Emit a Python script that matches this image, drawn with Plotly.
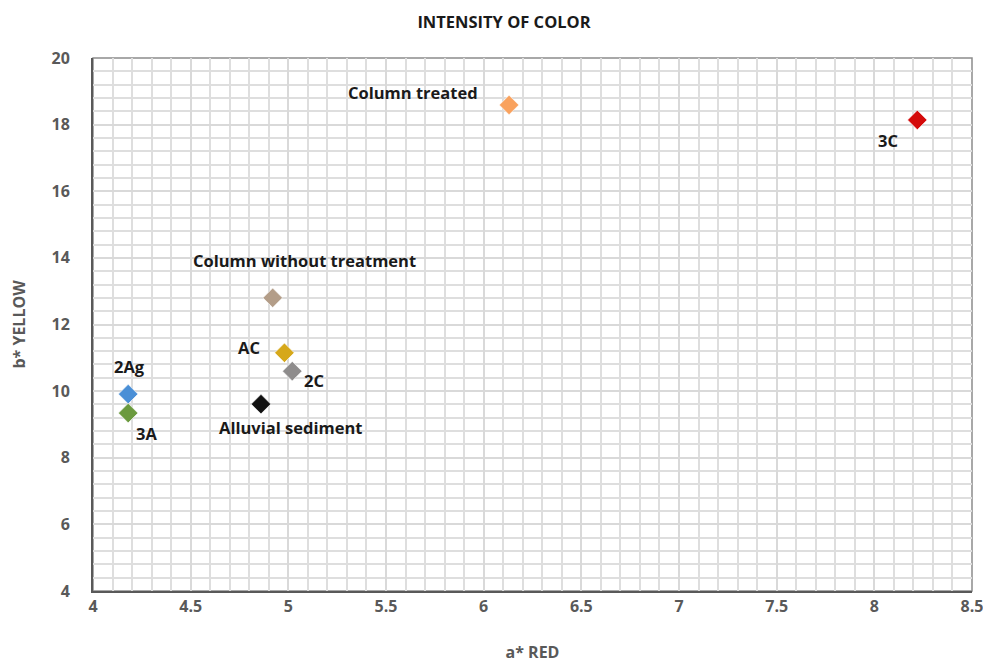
import plotly.graph_objects as go

samples = ["2Ag", "3A", "Alluvial sediment", "AC", "2C", "Column without treatment", "Column treated", "3C"]
a_red = [4.18, 4.18, 4.86, 4.98, 5.02, 4.92, 6.13, 8.22]
b_yellow = [9.91, 9.34, 9.61, 11.15, 10.6, 12.8, 18.59, 18.14]
colors = ["#4a8fd6", "#6b9a3e", "#111111", "#d6a81a", "#8e8c8c", "#b39d88", "#f9a25e", "#d40a0a"]
label_shift = {
    "2Ag": (1, 28), "3A": (18, -20), "Alluvial sediment": (30, -23), "AC": (-35, 5),
    "2C": (22, -9), "Column without treatment": (32, 37), "Column treated": (-96, 12), "3C": (-29, -21),
}
x_ticks = [4, 4.5, 5, 5.5, 6, 6.5, 7, 7.5, 8, 8.5]
y_ticks = [4, 6, 8, 10, 12, 14, 16, 18, 20]

W, H = 983, 656  # page body has an 8px default margin

fig = go.Figure()
for name, x, y, c in zip(samples, a_red, b_yellow, colors):
    fig.add_trace(go.Scatter(
        x=[x], y=[y], mode="markers", name=name,
        marker=dict(symbol="diamond", size=15, color=c, line=dict(color="rgba(255,255,255,0.6)", width=1)),
        showlegend=False,
    ))
    dx, dy = label_shift[name]
    fig.add_annotation(x=x, y=y, text=name, showarrow=False, xshift=dx, yshift=dy,
                       font=dict(family="Open Sans", size=16.5, color="#1a1a1a", weight="bold"))

tickfont = dict(family="Open Sans", size=16, color="#595959", weight="bold")
fig.update_layout(
    width=W, height=H,
    margin=dict(l=85, r=19, t=50, b=73, autoexpand=False),
    paper_bgcolor="white", plot_bgcolor="white",
    title=dict(text="INTENSITY OF COLOR", x=(504 - 8) / W, xanchor="center", xref="container",
               y=1 - 14 / H, yref="container", yanchor="middle",
               font=dict(family="Open Sans", size=16.5, color="#1a1a1a", weight="bold")),
    xaxis=dict(range=[4, 8.5], tickvals=x_ticks, ticktext=[f"{v:g}" for v in x_ticks],
               showgrid=True, gridcolor="#d9d9d9", gridwidth=1.5,
               minor=dict(dtick=0.1, showgrid=True, gridcolor="#dedede", gridwidth=1.5),
               showline=True, linecolor="#595959", linewidth=2, mirror=False, zeroline=False,
               ticks="", tickfont=tickfont, ticklabelstandoff=0, automargin=False,
               title=dict(text="a* RED", font=dict(family="Open Sans", size=16, color="#595959", weight="bold"), standoff=31)),
    yaxis=dict(range=[4, 20], tickvals=y_ticks, ticktext=[str(v) for v in y_ticks],
               showgrid=True, gridcolor="#d9d9d9", gridwidth=1.5,
               minor=dict(dtick=0.4, showgrid=True, gridcolor="#dedede", gridwidth=1.5),
               showline=True, linecolor="#595959", linewidth=2, zeroline=False,
               ticks="", tickfont=tickfont, ticklabelstandoff=18, automargin=False,
               title=dict(text="b* YELLOW", font=dict(family="Open Sans", size=16, color="#595959", weight="bold"), standoff=23)),
)
fig.add_shape(type="rect", xref="paper", yref="paper", x0=0, y0=0, x1=1, y1=1,
              line=dict(color="#8c8c8c", width=1.5), layer="below")
fig.write_html("out.html")
